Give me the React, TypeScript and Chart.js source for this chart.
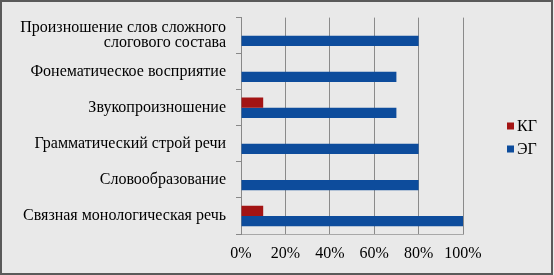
import { useEffect, useRef } from 'react';
import { Chart, registerables } from 'chart.js';

Chart.register(...registerables);

const categories: (string | string[])[] = [
  ['Произношение слов сложного', 'слогового состава'],
  'Фонематическое восприятие',
  'Звукопроизношение',
  'Грамматический строй речи',
  'Словообразование',
  'Связная монологическая речь',
];
const seriesNames = ['КГ', 'ЭГ'];
const kgValues = [0, 0, 10, 0, 0, 10];
const egValues = [80, 70, 70, 80, 80, 100];
const xTickValues = [0, 20, 40, 60, 80, 100];

const RED = '#a31414';
const BLUE = '#0d4c9c';
const FONT = "'Liberation Serif', 'Times New Roman', serif";

export default function App() {
  const ref = useRef<HTMLCanvasElement | null>(null);

  useEffect(() => {
    document.body.style.margin = '0';
    const canvas = ref.current;
    if (!canvas) return;

    const bgPlugin = {
      id: 'bgFrame',
      beforeDraw(chart: any) {
        const ctx = chart.ctx;
        ctx.save();
        ctx.fillStyle = '#e9e9e9';
        ctx.fillRect(0, 0, chart.width, chart.height);
        ctx.strokeStyle = '#5a5a5a';
        ctx.lineWidth = 2;
        ctx.strokeRect(1, 1, chart.width - 3, chart.height - 2);
        ctx.restore();
      },
    };

    const legendPlugin = {
      id: 'customLegend',
      afterDraw(chart: any) {
        const ctx = chart.ctx;
        ctx.save();
        ctx.font = `16px ${FONT}`;
        ctx.textBaseline = 'middle';
        ctx.textAlign = 'left';
        const x = chart.chartArea.right + 44;
        const yStart = 126;
        chart.data.datasets.forEach((ds: any, i: number) => {
          const y = yStart + i * 23;
          ctx.fillStyle = ds.backgroundColor;
          ctx.fillRect(x, y - 3.5, 7, 7);
          ctx.fillStyle = '#000';
          ctx.fillText(ds.label, x + 10, y + 1);
        });
        ctx.restore();
      },
    };

    const chart = new Chart(canvas, {
      type: 'bar',
      data: {
        labels: categories,
        datasets: [
          { label: seriesNames[0], data: kgValues, backgroundColor: RED, barPercentage: 1, categoryPercentage: 0.57 },
          { label: seriesNames[1], data: egValues, backgroundColor: BLUE, barPercentage: 1, categoryPercentage: 0.57 },
        ],
      },
      options: {
        indexAxis: 'y',
        animation: false,
        responsive: false,
        layout: { padding: { top: 14, right: 91, left: 0, bottom: 0 } },
        plugins: { legend: { display: false }, tooltip: { enabled: false } },
        scales: {
          x: {
            min: 0,
            max: 100,
            afterBuildTicks(scale: any) {
              scale.ticks = xTickValues.map((v) => ({ value: v }));
            },
            afterFit(scale: any) {
              scale.height = 41;
            },
            ticks: {
              callback: (v: any) => `${v}%`,
              color: '#000',
              font: { family: FONT, size: 16 },
              padding: 10,
              maxRotation: 0,
            },
            grid: { color: '#8a8a8a', drawTicks: false, lineWidth: 1 },
            border: { color: '#a8a8a8' },
          },
          y: {
            afterFit(scale: any) {
              scale.width = 241;
            },
            ticks: {
              color: '#000',
              font: { family: FONT, size: 16, lineHeight: 0.95 },
              padding: 10,
            },
            grid: { drawOnChartArea: false, drawTicks: true, tickLength: 5, color: '#888' },
            border: { color: '#888' },
          },
        },
      },
      plugins: [bgPlugin, legendPlugin],
    });
    return () => chart.destroy();
  }, []);

  return <canvas ref={ref} width={554} height={275} style={{ display: 'block' }} />;
}
